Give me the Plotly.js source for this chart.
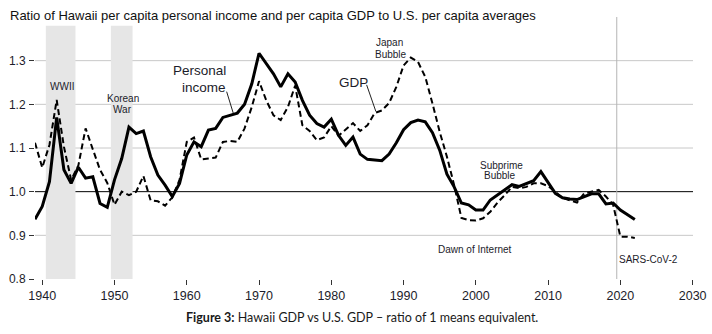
<!DOCTYPE html>
<html>
<head>
<meta charset="utf-8">
<script src="https://cdn.plot.ly/plotly-3.0.1.min.js"></script>
<style>html,body{margin:0;padding:0;background:#fff;}#chart{width:712px;height:334px;}</style>
</head>
<body>
<div id="chart"></div>
<script>
var years = [];
for (var y = 1939; y <= 2022; y++) years.push(y);

var personalIncome = [
  0.937, 0.966, 1.023, 1.170, 1.050, 1.019, 1.056, 1.031, 1.034, 0.973,
  0.964, 1.027, 1.076, 1.148, 1.133, 1.139, 1.080, 1.038, 1.015, 0.989,
  1.019, 1.084, 1.114, 1.103, 1.141, 1.145, 1.170, 1.175, 1.180, 1.200,
  1.247, 1.317, 1.293, 1.270, 1.240, 1.270, 1.251, 1.209, 1.175, 1.156,
  1.148, 1.166, 1.129, 1.106, 1.125, 1.086, 1.074, 1.072, 1.071, 1.086,
  1.112, 1.142, 1.158, 1.164, 1.160, 1.135, 1.095, 1.040, 1.011, 0.974,
  0.970, 0.958, 0.958, 0.981, 0.992, 1.004, 1.016, 1.012, 1.019, 1.025,
  1.046, 1.021, 0.996, 0.986, 0.983, 0.982, 0.988, 0.995, 0.995, 0.972,
  0.974, 0.958, 0.947, 0.936
];

var gdp = [
  1.112, 1.055, 1.107, 1.210, 1.103, 1.027, 1.060, 1.145, 1.097, 1.050,
  1.020, 0.970, 1.000, 0.992, 1.000, 1.036, 0.980, 0.978, 0.968, 0.987,
  1.027, 1.114, 1.124, 1.074, 1.076, 1.078, 1.114, 1.116, 1.114, 1.145,
  1.194, 1.253, 1.209, 1.175, 1.164, 1.194, 1.243, 1.152, 1.139, 1.118,
  1.124, 1.150, 1.128, 1.142, 1.157, 1.139, 1.152, 1.180, 1.186, 1.203,
  1.240, 1.289, 1.307, 1.297, 1.263, 1.202, 1.137, 1.080, 1.015, 0.940,
  0.935, 0.934, 0.939, 0.954, 0.975, 0.992, 1.011, 1.008, 1.011, 1.019,
  1.019, 1.013, 1.000, 0.986, 0.980, 0.975, 0.996, 1.000, 1.004, 0.989,
  0.970, 0.897, 0.897, 0.894
];

var yTickVals = [0.8, 0.9, 1.0, 1.1, 1.2, 1.3];
var yTickText = ['0.8', '0.9', '1.0', '1.1', '1.2', '1.3'];
var gridVals = [0.9, 1.1, 1.2, 1.3];
var xTickVals = [1940, 1950, 1960, 1970, 1980, 1990, 2000, 2010, 2020, 2030];

var wars = [
  {name: 'WWII', start: 1940.5, end: 1944.6},
  {name: 'Korean War', start: 1949.5, end: 1952.5}
];
var covidLine = 2019.5;

var FONT = '"Liberation Sans", Arial, sans-serif';
var TXT = '#1c1c2a';

var shapes = [];
wars.forEach(function (w) {
  shapes.push({type: 'rect', xref: 'x', yref: 'y', x0: w.start, x1: w.end, y0: 0.8, y1: 1.38,
    fillcolor: '#e6e6e6', line: {width: 0}, layer: 'below'});
});
gridVals.forEach(function (g) {
  shapes.push({type: 'line', xref: 'paper', yref: 'y', x0: 0, x1: 1, y0: g, y1: g,
    line: {color: '#c8c8c8', width: 1}, layer: 'below'});
});
shapes.push({type: 'line', xref: 'paper', yref: 'y', x0: 0, x1: 1, y0: 1.0, y1: 1.0,
  line: {color: '#000', width: 1}, layer: 'below'});
shapes.push({type: 'line', xref: 'x', yref: 'paper', x0: covidLine, x1: covidLine, y0: 0, y1: 1,
  line: {color: '#b4b4b4', width: 1}, layer: 'below'});
// leader lines
shapes.push({type: 'line', xref: 'x', yref: 'y', x0: 1965.52, y0: 1.229, x1: 1966.43, y1: 1.18,
  line: {color: '#222', width: 1}});
shapes.push({type: 'line', xref: 'x', yref: 'y', x0: 1984.89, y0: 1.2446, x1: 1986.17, y1: 1.1836,
  line: {color: '#222', width: 1}});

function ann(text, x, y, size, anchor) {
  return {text: text, x: x, y: y, xref: 'x', yref: 'y', showarrow: false,
    xanchor: anchor || 'center', yanchor: 'middle',
    font: {family: FONT, size: size, color: TXT}};
}

var annotations = [
  ann('WWII', 1942.73, 1.24, 10),
  ann('Korean', 1951.17, 1.2126, 10),
  ann('War', 1951.17, 1.1874, 10),
  ann('Personal', 1965.75, 1.2766, 13.5, 'right'),
  ann('income', 1965.75, 1.2395, 13.5, 'right'),
  ann('GDP', 1983.13, 1.249, 13.5),
  ann('Japan', 1988.12, 1.3406, 10),
  ann('Bubble', 1988.25, 1.3143, 10),
  ann('Subprime', 2003.51, 1.0606, 10),
  ann('Bubble', 2003.4, 1.0366, 10),
  ann('Dawn of Internet', 1999.95, 0.8686, 10),
  ann('SARS-CoV-2', 2023.85, 0.8453, 10),
  {text: '<b>Figure 3:</b> Hawaii GDP vs U.S. GDP \u2013 ratio of 1 means equivalent.',
   xref: 'paper', yref: 'paper', x: 0.497, y: -0.147, xanchor: 'center', yanchor: 'middle',
   showarrow: false, font: {family: 'Lato, "Open Sans", sans-serif', size: 12.5, color: '#1a1a1a'}}
];

var traces = [
  {x: years, y: personalIncome, type: 'scatter', mode: 'lines', name: 'Personal income',
   line: {color: '#000', width: 3}},
  {x: years, y: gdp, type: 'scatter', mode: 'lines', name: 'GDP',
   line: {color: '#000', width: 2, dash: '6px,3.5px'}}
];

var layout = {
  width: 712, height: 334,
  margin: {l: 35, r: 19, t: 17, b: 55},
  paper_bgcolor: '#fff', plot_bgcolor: '#fff',
  showlegend: false,
  title: {text: 'Ratio of Hawaii per capita personal income and per capita GDP to U.S. per capita averages',
    font: {family: FONT, size: 13, color: '#111'},
    x: 10 / 712, xanchor: 'left', xref: 'container',
    y: 1 - 15.5 / 334, yanchor: 'middle', yref: 'container'},
  xaxis: {range: [1939, 2030.05], tickmode: 'array', tickvals: xTickVals,
    showgrid: false, zeroline: false, showline: false,
    ticks: 'outside', ticklen: 5, tickcolor: '#333', tickwidth: 1,
    tickfont: {family: FONT, size: 12.5, color: TXT}},
  yaxis: {range: [0.8, 1.4], tickmode: 'array', tickvals: yTickVals, ticktext: yTickText,
    showgrid: false, zeroline: false, showline: false,
    ticks: 'outside', ticklen: 5, tickcolor: '#333', tickwidth: 1,
    ticklabelstandoff: 1,
    tickfont: {family: FONT, size: 12, color: TXT}},
  shapes: shapes,
  annotations: annotations
};

Plotly.newPlot('chart', traces, layout, {displayModeBar: false, staticPlot: true});
</script>
</body>
</html>
